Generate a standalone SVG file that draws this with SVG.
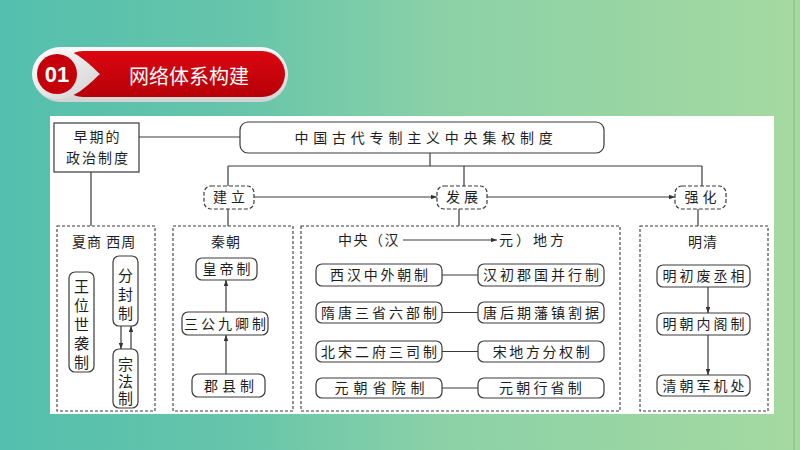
<svg xmlns="http://www.w3.org/2000/svg" width="800" height="450" viewBox="0 0 800 450">
<defs>
<linearGradient id="bg" x1="0" y1="0" x2="1" y2="0">
<stop offset="0" stop-color="#54bfae"/>
<stop offset="0.3" stop-color="#66c5aa"/>
<stop offset="0.55" stop-color="#8bd1a7"/>
<stop offset="1" stop-color="#a5d9a0"/>
</linearGradient>
<linearGradient id="pill" x1="0" y1="0" x2="0" y2="1">
<stop offset="0" stop-color="#fafafa"/>
<stop offset="1" stop-color="#d2d2d2"/>
</linearGradient>
<linearGradient id="red" x1="0" y1="0" x2="0" y2="1">
<stop offset="0" stop-color="#dc0610"/>
<stop offset="1" stop-color="#b50008"/>
</linearGradient>
<linearGradient id="drop" x1="0" y1="0" x2="1" y2="1">
<stop offset="0" stop-color="#ffffff"/>
<stop offset="1" stop-color="#d0d0d0"/>
</linearGradient>
<marker id="ah" viewBox="0 0 8 6" refX="8" refY="3" markerWidth="6" markerHeight="4.5" orient="auto" markerUnits="userSpaceOnUse">
<path d="M0,0 L8,3 L0,6 Z" fill="#333"/>
</marker>
<style>
.t{font-family:"Noto Sans CJK SC","Noto Sans",sans-serif;font-size:14px;fill:#1e1e1e}
.c{text-anchor:middle}
.v{writing-mode:vertical-rl;text-anchor:middle;font-size:15px}
.box{fill:#fff;stroke:#3a3a3a;stroke-width:1.2}
.dn{fill:#fff;stroke:#3a3a3a;stroke-width:1.2;stroke-dasharray:4 2}
.grp{fill:none;stroke:#3a3a3a;stroke-width:1.1;stroke-dasharray:3 2}
.ln{fill:none;stroke:#3a3a3a;stroke-width:1.2}
.ar{fill:none;stroke:#3a3a3a;stroke-width:1.2;marker-end:url(#ah)}
</style>
</defs>
<rect x="0" y="0" width="800" height="450" fill="url(#bg)"/>
<rect x="793" y="0" width="2" height="450" fill="#8dbd92" opacity="0.6"/>

<g id="header">
<rect x="33" y="47" width="255" height="55" rx="27.5" fill="url(#pill)"/>
<rect x="60" y="51" width="225" height="46" rx="23" fill="url(#red)"/>
<path d="M57,49 A25,25 0 0 0 57,99 C75,99 88,85 100,74 C88,63 75,49 57,49 Z" fill="url(#drop)"/>
<circle cx="57" cy="74" r="20" fill="#c5000b"/>
<text x="57" y="82" text-anchor="middle" font-family="Liberation Sans, Arial, sans-serif" font-weight="bold" font-size="22" fill="#fff">01</text>
<text x="189" y="84" text-anchor="middle" font-family="Noto Sans CJK SC, sans-serif" font-size="20" fill="#fff">网络体系构建</text>
</g>

<rect x="50" y="116" width="724" height="298" fill="#fff"/>

<g id="connectors">
<line class="ln" x1="139" y1="137" x2="240" y2="137"/>
<line class="ln" x1="91" y1="172" x2="91" y2="226"/>
<line class="ln" x1="430" y1="153" x2="430" y2="166"/>
<line class="ln" x1="228" y1="166" x2="702" y2="166"/>
<line class="ln" x1="228" y1="166" x2="228" y2="186"/>
<line class="ln" x1="464" y1="166" x2="464" y2="186"/>
<line class="ln" x1="702" y1="166" x2="702" y2="186"/>
<line class="ar" x1="254" y1="197" x2="437" y2="197"/>
<line class="ar" x1="487" y1="197" x2="675" y2="197"/>
<line class="ln" x1="228" y1="209" x2="228" y2="226"/>
<line class="ln" x1="459" y1="209" x2="459" y2="226"/>
<line class="ln" x1="698" y1="209" x2="698" y2="226"/>
<line class="ar" x1="121" y1="326" x2="121" y2="349"/>
<line class="ar" x1="131" y1="349" x2="131" y2="326"/>
<line class="ar" x1="226" y1="312" x2="226" y2="280"/>
<line class="ar" x1="226" y1="374" x2="226" y2="335"/>
<line class="ar" x1="403" y1="240" x2="497" y2="240"/>
<line class="ln" x1="442" y1="275" x2="478" y2="275"/>
<line class="ln" x1="442" y1="312.5" x2="478" y2="312.5"/>
<line class="ln" x1="442" y1="351.5" x2="478" y2="351.5"/>
<line class="ln" x1="442" y1="388" x2="478" y2="388"/>
<line class="ar" x1="708" y1="287" x2="708" y2="313"/>
<line class="ar" x1="708" y1="335" x2="708" y2="375"/>
</g>

<g id="early">
<rect class="box" x="54" y="123" width="85" height="49"/>
<text class="t c" x="97.5" y="142" letter-spacing="2">早期的</text>
<text class="t c" x="98" y="162.5" letter-spacing="2">政治制度</text>
</g>
<g id="main">
<rect class="box" x="240" y="122" width="364" height="31" rx="8"/>
<text class="t c" x="426" y="143" font-size="15" letter-spacing="4.8">中国古代专制主义中央集权制度</text>
</g>
<g id="jianli">
<rect class="dn" x="204" y="186" width="50" height="23" rx="7"/>
<text class="t c" x="231" y="202" letter-spacing="4">建立</text>
</g>
<g id="fazhan">
<rect class="dn" x="437" y="186" width="50" height="23" rx="7"/>
<text class="t c" x="464" y="202" letter-spacing="4">发展</text>
</g>
<g id="qianghua">
<rect class="dn" x="675" y="186" width="51" height="23" rx="7"/>
<text class="t c" x="702.5" y="202" letter-spacing="4">强化</text>
</g>

<g id="g1">
<rect class="grp" x="57" y="226" width="98" height="185"/>
<text class="t" x="72" y="247" letter-spacing="1">夏商 西周</text>
<g id="wangwei">
<rect class="box" x="69" y="272" width="25" height="100" rx="6"/>
<text class="t v" x="81.5" y="326" letter-spacing="4">王位世袭制</text>
</g>
<g id="fenfeng">
<rect class="box" x="113" y="256" width="25" height="70" rx="6"/>
<text class="t v" x="125.5" y="296" letter-spacing="4">分封制</text>
</g>
<g id="zongfa">
<rect class="box" x="113" y="349" width="25" height="59" rx="6"/>
<text class="t v" x="125.5" y="382" letter-spacing="2">宗法制</text>
</g>
</g>

<g id="g2">
<rect class="grp" x="173" y="226" width="120" height="185"/>
<text class="t c" x="226" y="247" letter-spacing="1">秦朝</text>
<g id="huangdi">
<rect class="box" x="196" y="258" width="61" height="22" rx="6"/>
<text class="t c" x="228" y="274" letter-spacing="3">皇帝制</text>
</g>
<g id="sangong">
<rect class="box" x="182" y="312" width="86" height="23" rx="6"/>
<text class="t c" x="226.5" y="328.5" letter-spacing="3">三公九卿制</text>
</g>
<g id="junxian">
<rect class="box" x="192" y="374" width="73" height="23" rx="6"/>
<text class="t c" x="231" y="390.5" letter-spacing="4">郡县制</text>
</g>
</g>

<g id="g3">
<rect class="grp" x="301" y="226" width="319" height="185"/>
<text class="t" x="338" y="245" letter-spacing="1.5">中央（汉</text>
<text class="t" x="499" y="245" letter-spacing="3">元）地方</text>
<g id="r1l"><rect class="box" x="316" y="264" width="126" height="22" rx="6"/><text class="t c" x="380.5" y="280" letter-spacing="2.8">西汉中外朝制</text></g>
<g id="r1r"><rect class="box" x="478" y="264" width="126" height="22" rx="6"/><text class="t c" x="542.5" y="280" letter-spacing="3">汉初郡国并行制</text></g>
<g id="r2l"><rect class="box" x="316" y="302" width="126" height="21" rx="6"/><text class="t c" x="380.5" y="317.5" letter-spacing="3">隋唐三省六部制</text></g>
<g id="r2r"><rect class="box" x="478" y="302" width="126" height="21" rx="6"/><text class="t c" x="542.5" y="317.5" letter-spacing="3">唐后期藩镇割据</text></g>
<g id="r3l"><rect class="box" x="316" y="341" width="126" height="21" rx="6"/><text class="t c" x="380.5" y="356.5" letter-spacing="3">北宋二府三司制</text></g>
<g id="r3r"><rect class="box" x="478" y="341" width="126" height="21" rx="6"/><text class="t c" x="542.5" y="356.5" letter-spacing="2.6">宋地方分权制</text></g>
<g id="r4l"><rect class="box" x="316" y="378" width="126" height="20" rx="6"/><text class="t c" x="382" y="393" letter-spacing="5">元朝省院制</text></g>
<g id="r4r"><rect class="box" x="478" y="378" width="126" height="20" rx="6"/><text class="t c" x="542" y="393" letter-spacing="3.2">元朝行省制</text></g>
</g>

<g id="g4">
<rect class="grp" x="640" y="226" width="128" height="185"/>
<text class="t c" x="703" y="247" letter-spacing="1">明清</text>
<g id="mingchu"><rect class="box" x="657" y="265" width="93" height="22" rx="6"/><text class="t c" x="705" y="281" letter-spacing="3">明初废丞相</text></g>
<g id="neige"><rect class="box" x="657" y="313" width="93" height="22" rx="6"/><text class="t c" x="705" y="329" letter-spacing="3">明朝内阁制</text></g>
<g id="junji"><rect class="box" x="657" y="375" width="93" height="21" rx="6"/><text class="t c" x="705" y="390.5" letter-spacing="3">清朝军机处</text></g>
</g>
</svg>
